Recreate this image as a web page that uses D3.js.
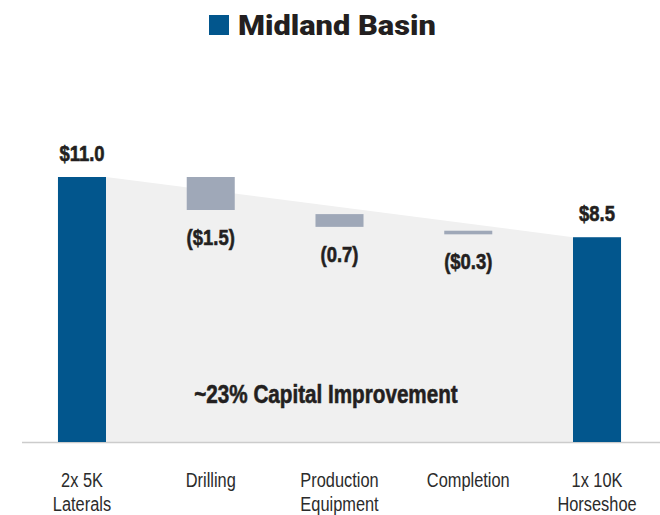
<!DOCTYPE html>
<html>
<head>
<meta charset="utf-8">
<script src="https://cdn.jsdelivr.net/npm/d3@7"></script>
<style>
  body { margin: 0; background: #fff; }
  svg { display: block; }
</style>
</head>
<body>
<svg id="chart"></svg>
<script>
// categories (multi-line labels)
const categories = [["2x 5K", "Laterals"], ["Drilling"], ["Production", "Equipment"], ["Completion"], ["1x 10K", "Horseshoe"]];
// bar extents as drawn ($MM), totals start at 0
const barLow = [0, 9.63, 8.93, 8.62, 0];
const barHigh = [11.0, 11.0, 9.46, 8.77, 8.5];
const isTotal = [true, false, false, false, true];
const valueLabels = ["$11.0", "($1.5)", "(0.7)", "($0.3)", "$8.5"];
const title = "Midland Basin";
const note = "~23% Capital Improvement";

const width = 660;
const height = 515;
const font = "'Liberation Sans', Arial, sans-serif";

const svg = d3.select("#chart")
  .attr("width", width)
  .attr("height", height);

const x = d3.scaleBand()
  .domain(d3.range(categories.length))
  .range([17.6, 661.4])
  .paddingInner(0.627)
  .paddingOuter(0.3135);

const y = d3.scaleLinear()
  .domain([0, 11])
  .range([442, 177]);

const blue = "#02568d";
const grey = "#9fa8b8";

// shaded area between the two totals
const first = 0, last = categories.length - 1;
const shade = [
  [x(first) + x.bandwidth(), y(barHigh[first])],
  [x(last), y(barHigh[last])],
  [x(last), y(0)],
  [x(first) + x.bandwidth(), y(0)]
];
svg.append("path")
  .attr("d", d3.line()(shade) + "Z")
  .attr("fill", "#f0f0f0");

// baseline
svg.append("line")
  .attr("x1", 22).attr("x2", width)
  .attr("y1", y(0) + 0.5).attr("y2", y(0) + 0.5)
  .attr("stroke", "#cccccc")
  .attr("stroke-width", 1.5);

// bars
svg.append("g")
  .selectAll("rect")
  .data(d3.range(categories.length))
  .enter().append("rect")
  .attr("x", i => x(i))
  .attr("width", x.bandwidth())
  .attr("y", i => y(barHigh[i]))
  .attr("height", i => y(barLow[i]) - y(barHigh[i]))
  .attr("fill", i => isTotal[i] ? blue : grey);

// value labels (condensed bold)
svg.append("g")
  .selectAll("text")
  .data(d3.range(categories.length))
  .enter().append("text")
  .attr("transform", i => {
    const ty = isTotal[i] ? y(barHigh[i]) - 16 : y(barLow[i]) + 35;
    return `translate(${x(i) + x.bandwidth() / 2},${ty}) scale(0.84,1)`;
  })
  .attr("text-anchor", "middle")
  .style("font-family", font)
  .style("font-weight", "bold")
  .style("font-size", "22px")
  .style("fill", "#231f20")
  .style("stroke", "#231f20")
  .style("stroke-width", 0.6)
  .text(i => valueLabels[i]);

// category labels (condensed), one text per line
const cat = svg.append("g")
  .selectAll("g")
  .data(d3.range(categories.length))
  .enter().append("g")
  .attr("transform", i => `translate(${x(i) + x.bandwidth() / 2},0)`);

cat.selectAll("text")
  .data(i => categories[i])
  .enter().append("text")
  .attr("transform", (d, j) => `translate(0,${487 + j * 24}) scale(0.78,1)`)
  .attr("text-anchor", "middle")
  .style("font-family", font)
  .style("font-size", "21px")
  .style("fill", "#2b2b2b")
  .text(d => d);

// annotation in the shaded area
svg.append("text")
  .attr("transform", "translate(326,403) scale(0.795,1)")
  .attr("text-anchor", "middle")
  .style("font-family", font)
  .style("font-weight", "bold")
  .style("font-size", "26px")
  .style("fill", "#231f20")
  .style("stroke", "#231f20")
  .style("stroke-width", 0.6)
  .text(note);

// title with square marker
svg.append("rect")
  .attr("x", 209).attr("y", 15)
  .attr("width", 20).attr("height", 20)
  .attr("fill", blue);

svg.append("text")
  .attr("transform", "translate(238,35) scale(1.1,1)")
  .style("font-family", "Roboto, 'Liberation Sans', sans-serif")
  .style("font-weight", "900")
  .style("font-size", "28px")
  .style("fill", "#231f20")
  .text(title);
</script>
</body>
</html>
